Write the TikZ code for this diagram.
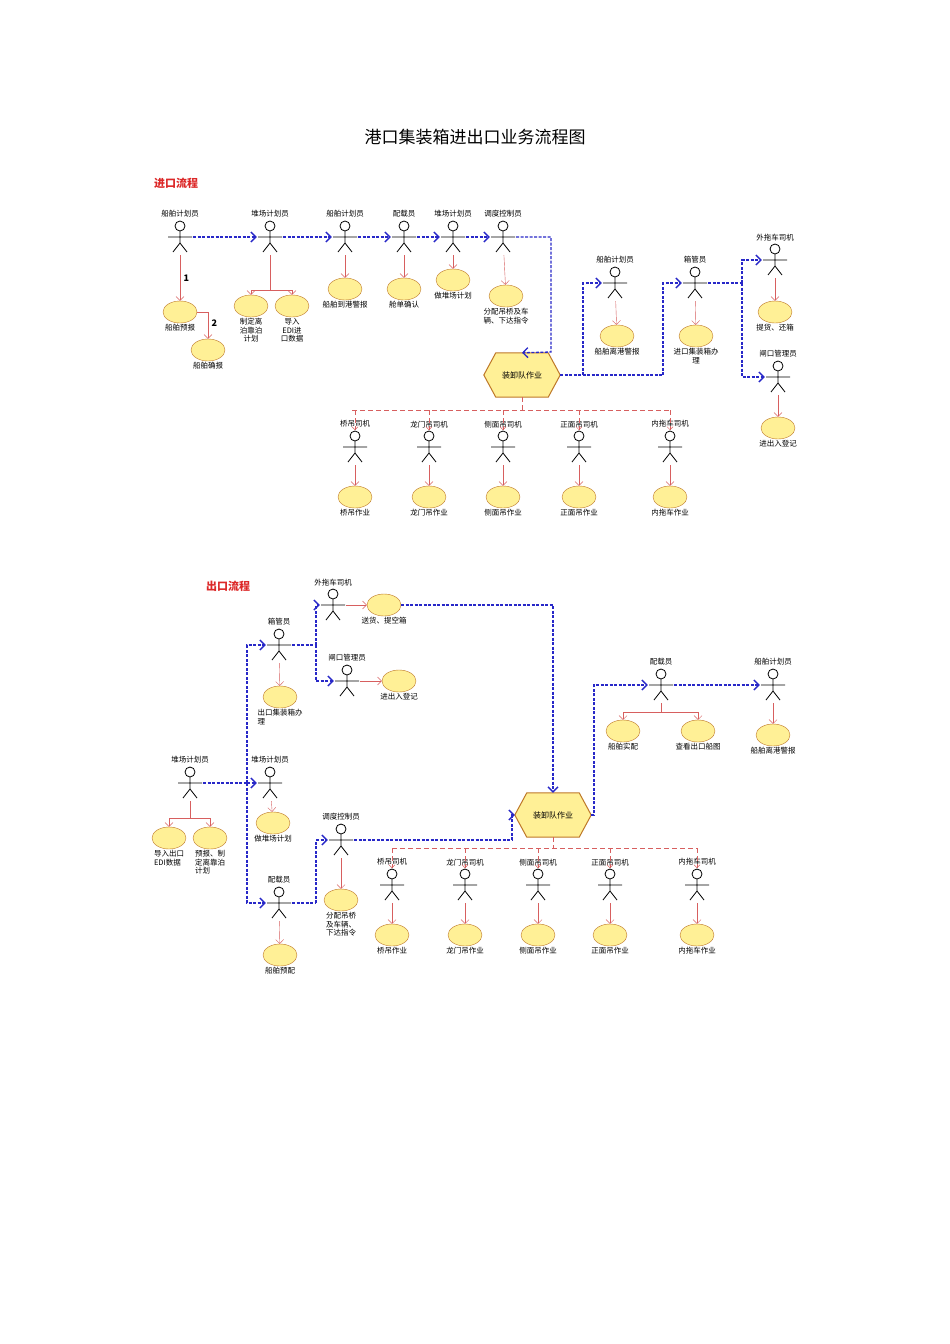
\documentclass[tikz,border=0pt]{standalone}
\usepackage{fontspec}
\setmainfont{Noto Sans CJK SC}
\usetikzlibrary{shapes.geometric,arrows.meta,calc}
\definecolor{flowcol}{RGB}{40,40,200}
\definecolor{relcol}{RGB}{215,95,95}
\definecolor{ucfill}{RGB}{255,240,150}
\definecolor{ucline}{RGB}{190,120,40}
\definecolor{headcol}{RGB}{220,40,40}
\tikzset{
  lbl/.style={font=\fontsize{7.5}{8.5}\selectfont,align=center,inner sep=1pt},
  actor/.style={minimum width=26pt,minimum height=36pt,inner sep=0pt,
    path picture={
      \coordinate (c) at (path picture bounding box.center);
      \draw[line width=0.8pt] ([shift={(0,-11)}]c) circle (5pt)
        ([shift={(0,-6)}]c) -- ([shift={(0,6)}]c)
        ([shift={(-12,0)}]c) -- ([shift={(12,0)}]c)
        ([shift={(-7,15)}]c) -- ([shift={(0,6)}]c) -- ([shift={(7,15)}]c);
    }},
  uc/.style={ellipse,draw=ucline,fill=ucfill,minimum width=34pt,minimum height=22pt,inner sep=0pt},
  hexa/.style={minimum width=76pt,minimum height=44pt,inner sep=0pt,font=\fontsize{8}{9}\selectfont},
  hexline/.style={draw=ucline,fill=ucfill,line width=1pt},
  flow/.style={draw=flowcol,line width=1.3pt,dash pattern=on 3pt off 1.5pt,-{Straight Barb[length=5pt]}},
  link/.style={draw=flowcol,line width=1.3pt,dash pattern=on 3pt off 1.5pt},
  rel/.style={draw=relcol,-{Straight Barb[length=4pt]}},
  bus/.style={draw=relcol,dash pattern=on 5pt off 3pt},
  head/.style={font=\bfseries\fontsize{11}{13}\selectfont,text=headcol},
}
\begin{document}
\begin{tikzpicture}[x=1pt,y=-1pt]
  \useasboundingbox[fill=white] (0,0) rectangle (950,1344);
  \node[font=\fontsize{17}{20}\selectfont] (title) at (475,137) {港口集装箱进出口业务流程图};

  % import
  \node[head] (imp) at (176,183) {进口流程};
  \node[actor,label={[lbl]above:船舶计划员}] (a1) at (180,237) {};
  \node[actor,label={[lbl]above:堆场计划员}] (a2) at (270,237) {};
  \node[actor,label={[lbl]above:船舶计划员}] (a3) at (345,237) {};
  \node[actor,label={[lbl]above:配载员}] (a4) at (404,237) {};
  \node[actor,label={[lbl]above:堆场计划员}] (a5) at (453,237) {};
  \node[actor,label={[lbl]above:调度控制员}] (a6) at (503,237) {};
  \draw[flow] (a1) -- (a2);
  \draw[flow] (a2) -- (a3);
  \draw[flow] (a3) -- (a4);
  \draw[flow] (a4) -- (a5);
  \draw[flow] (a5) -- (a6);

  \node[uc,label={[lbl]below:船舶预报}] (u1) at (180,312) {};
  \node[uc,label={[lbl]below:船舶确报}] (u2) at (208,350) {};
  \node[uc,label={[lbl]below:制定离\\泊靠泊\\计划}] (u3) at (251,306) {};
  \node[uc,label={[lbl]below:导入\\EDI进\\口数据}] (u4) at (292,306) {};
  \node[uc,label={[lbl]below:船舶到港警报}] (u5) at (345,289) {};
  \node[uc,label={[lbl]below:舱单确认}] (u6) at (404,289) {};
  \node[uc,label={[lbl]below:做堆场计划}] (u7) at (453,280) {};
  \node[uc,label={[lbl]below:分配吊桥及车\\辆、下达指令}] (u8) at (506,296) {};
  \draw[rel] (a1) -- node[right,font=\bfseries\small] {1} (u1);
  \draw[rel] (u1.east) -| node[pos=0.7,right,font=\bfseries\small] {2} (u2);
  \coordinate (b1) at (270,290);
  \draw[relcol] (a2) -- (b1);
  \draw[rel] (b1) -| (u3);
  \draw[rel] (b1) -| (u4);
  \draw[rel] (a3) -- (u5);
  \draw[rel] (a4) -- (u6);
  \draw[rel] (a5) -- (u7);
  \draw[rel] (a6) -- (u8);

  \node[hexa] (h1) at (522,375) {};
  \draw[hexline] ($(h1.north west)+(12,0)$) -- ($(h1.north east)+(-12,0)$) -- (h1.east)
    -- ($(h1.south east)+(-12,0)$) -- ($(h1.south west)+(12,0)$) -- (h1.west) -- cycle;
  \node[font=\fontsize{8}{9}\selectfont] at (h1) {装卸队作业};
  \coordinate (j1) at (551,352);
  \draw[flow] (a6.east) -| (j1) -- (h1.north);

  \node[actor,label={[lbl]above:船舶计划员}] (a7) at (615,283) {};
  \node[actor,label={[lbl]above:箱管员}] (a8) at (695,283) {};
  \node[actor,label={[lbl]above:外拖车司机}] (a9) at (775,260) {};
  \node[actor,label={[lbl]above:闸口管理员}] (a10) at (778,377) {};
  \coordinate (j2) at (583,375);
  \coordinate (j3) at (663,375);
  \coordinate (j4) at (742,283);
  \draw[link] (h1.east) -- (j3);
  \draw[flow] (j2) |- (a7);
  \draw[flow] (j3) |- (a8);
  \draw[link] (a8) -- (j4);
  \draw[flow] (j4) |- (a9);
  \draw[flow] (j4) |- (a10);
  \node[uc,label={[lbl]below:船舶离港警报}] (u9) at (617,336) {};
  \node[uc,label={[lbl]below:进口集装箱办\\理}] (u10) at (696,336) {};
  \node[uc,label={[lbl]below:提货、还箱}] (u11) at (775,312) {};
  \node[uc,label={[lbl]below:进出入登记}] (u12) at (778,428) {};
  \draw[rel] (a7) -- (u9);
  \draw[rel] (a8) -- (u10);
  \draw[rel] (a9) -- (u11);
  \draw[rel] (a10) -- (u12);

  \coordinate (k0) at (522,410);
  \draw[bus] (h1.south) -- (k0);
  \draw[bus] (352,410) -- (670,410);
  \foreach \n/\x/\who/\job in {1/355/桥吊司机/桥吊作业,2/429/龙门吊司机/龙门吊作业,
      3/503/侧面吊司机/侧面吊作业,4/579/正面吊司机/正面吊作业,5/670/内拖车司机/内拖车作业}
  {
    \node[actor,label={[lbl]above:\who}] (d\n) at (\x,447) {};
    \node[uc,label={[lbl]below:\job}] (w\n) at (\x,497) {};
    \coordinate (t\n) at (\x,410);
    \draw[bus,-{Straight Barb[length=3pt]}] (t\n) -- ++(0,20);
    \draw[rel] (d\n) -- (w\n);
  }

  % export
  \node[head] (exp) at (228,586) {出口流程};
  \node[actor,label={[lbl]above:堆场计划员}] (e1) at (190,783) {};
  \node[actor,label={[lbl]above:箱管员}] (e2) at (279,645) {};
  \node[actor,label={[lbl]above:堆场计划员}] (e3) at (270,783) {};
  \node[actor,label={[lbl]above:配载员}] (e4) at (279,903) {};
  \node[actor,label={[lbl]above:外拖车司机}] (e5) at (333,605) {};
  \node[actor,label={[lbl]above:闸口管理员}] (e6) at (347,681) {};
  \node[actor,label={[lbl]above:调度控制员}] (e7) at (341,840) {};
  \node[actor,label={[lbl]above:配载员}] (e8) at (661,685) {};
  \node[actor,label={[lbl]above:船舶计划员}] (e9) at (773,685) {};

  \node[uc,label={[lbl,align=left]below:导入出口\\EDI数据}] (v1) at (169,838) {};
  \node[uc,label={[lbl,align=left]below:预报、制\\定离靠泊\\计划}] (v2) at (210,838) {};
  \node[uc,label={[lbl,align=left]below:出口集装箱办\\理}] (v3) at (280,697) {};
  \node[uc,label={[lbl]below:做堆场计划}] (v4) at (273,823) {};
  \node[uc,label={[lbl]below:船舶预配}] (v5) at (280,955) {};
  \node[uc,label={[lbl]below:送货、提空箱}] (v6) at (384,605) {};
  \node[uc,label={[lbl]below:进出入登记}] (v7) at (399,681) {};
  \node[uc,label={[lbl,align=left]below:分配吊桥\\及车辆、\\下达指令}] (v8) at (341,900) {};
  \node[uc,label={[lbl]below:船舶实配}] (v9) at (623,731) {};
  \node[uc,label={[lbl]below:查看出口船图}] (v10) at (698,731) {};
  \node[uc,label={[lbl]below:船舶离港警报}] (v11) at (773,735) {};

  \coordinate (b2) at (190,818);
  \draw[relcol] (e1) -- (b2);
  \draw[rel] (b2) -| (v1);
  \draw[rel] (b2) -| (v2);
  \coordinate (b3) at (661,712);
  \draw[relcol] (e8) -- (b3);
  \draw[rel] (b3) -| (v9);
  \draw[rel] (b3) -| (v10);
  \draw[rel] (e2) -- (v3);
  \draw[rel] (e3) -- (v4);
  \draw[rel] (e4) -- (v5);
  \draw[rel] (e5) -- (v6);
  \draw[rel] (e6) -- (v7);
  \draw[rel] (e7) -- (v8);
  \draw[rel] (e9) -- (v11);

  \node[hexa] (h2) at (553,815) {};
  \draw[hexline] ($(h2.north west)+(12,0)$) -- ($(h2.north east)+(-12,0)$) -- (h2.east)
    -- ($(h2.south east)+(-12,0)$) -- ($(h2.south west)+(12,0)$) -- (h2.west) -- cycle;
  \node[font=\fontsize{8}{9}\selectfont] at (h2) {装卸队作业};

  \coordinate (j5) at (247,783);
  \coordinate (j6) at (316,645);
  \coordinate (j7) at (316,903);
  \coordinate (j8) at (512,840);
  \coordinate (j9) at (594,815);
  \draw[link] (e1) -- (j5);
  \draw[flow] (j5) |- (e2);
  \draw[flow] (j5) -- (e3);
  \draw[flow] (j5) |- (e4);
  \draw[link] (e2) -- (j6);
  \draw[flow] (j6) |- (e5);
  \draw[flow] (j6) |- (e6);
  \draw[link] (e4) -- (j7);
  \draw[flow] (j7) |- (e7);
  \draw[link] (e7) -- (j8);
  \draw[flow] (j8) |- (h2.west);
  \draw[flow] (v6.east) -| (h2.north);
  \draw[flow] (h2.east) -| (j9) |- (e8);
  \draw[flow] (e8) -- (e9);

  \coordinate (k1) at (553,848);
  \draw[bus] (h2.south) -- (k1);
  \draw[bus] (392,848) -- (697,848);
  \foreach \n/\x/\who/\job in {1/392/桥吊司机/桥吊作业,2/465/龙门吊司机/龙门吊作业,
      3/538/侧面吊司机/侧面吊作业,4/610/正面吊司机/正面吊作业,5/697/内拖车司机/内拖车作业}
  {
    \node[actor,label={[lbl]above:\who}] (f\n) at (\x,885) {};
    \node[uc,label={[lbl]below:\job}] (g\n) at (\x,935) {};
    \coordinate (s\n) at (\x,848);
    \draw[bus,-{Straight Barb[length=3pt]}] (s\n) -- ++(0,20);
    \draw[rel] (f\n) -- (g\n);
  }
\end{tikzpicture}
\end{document}
